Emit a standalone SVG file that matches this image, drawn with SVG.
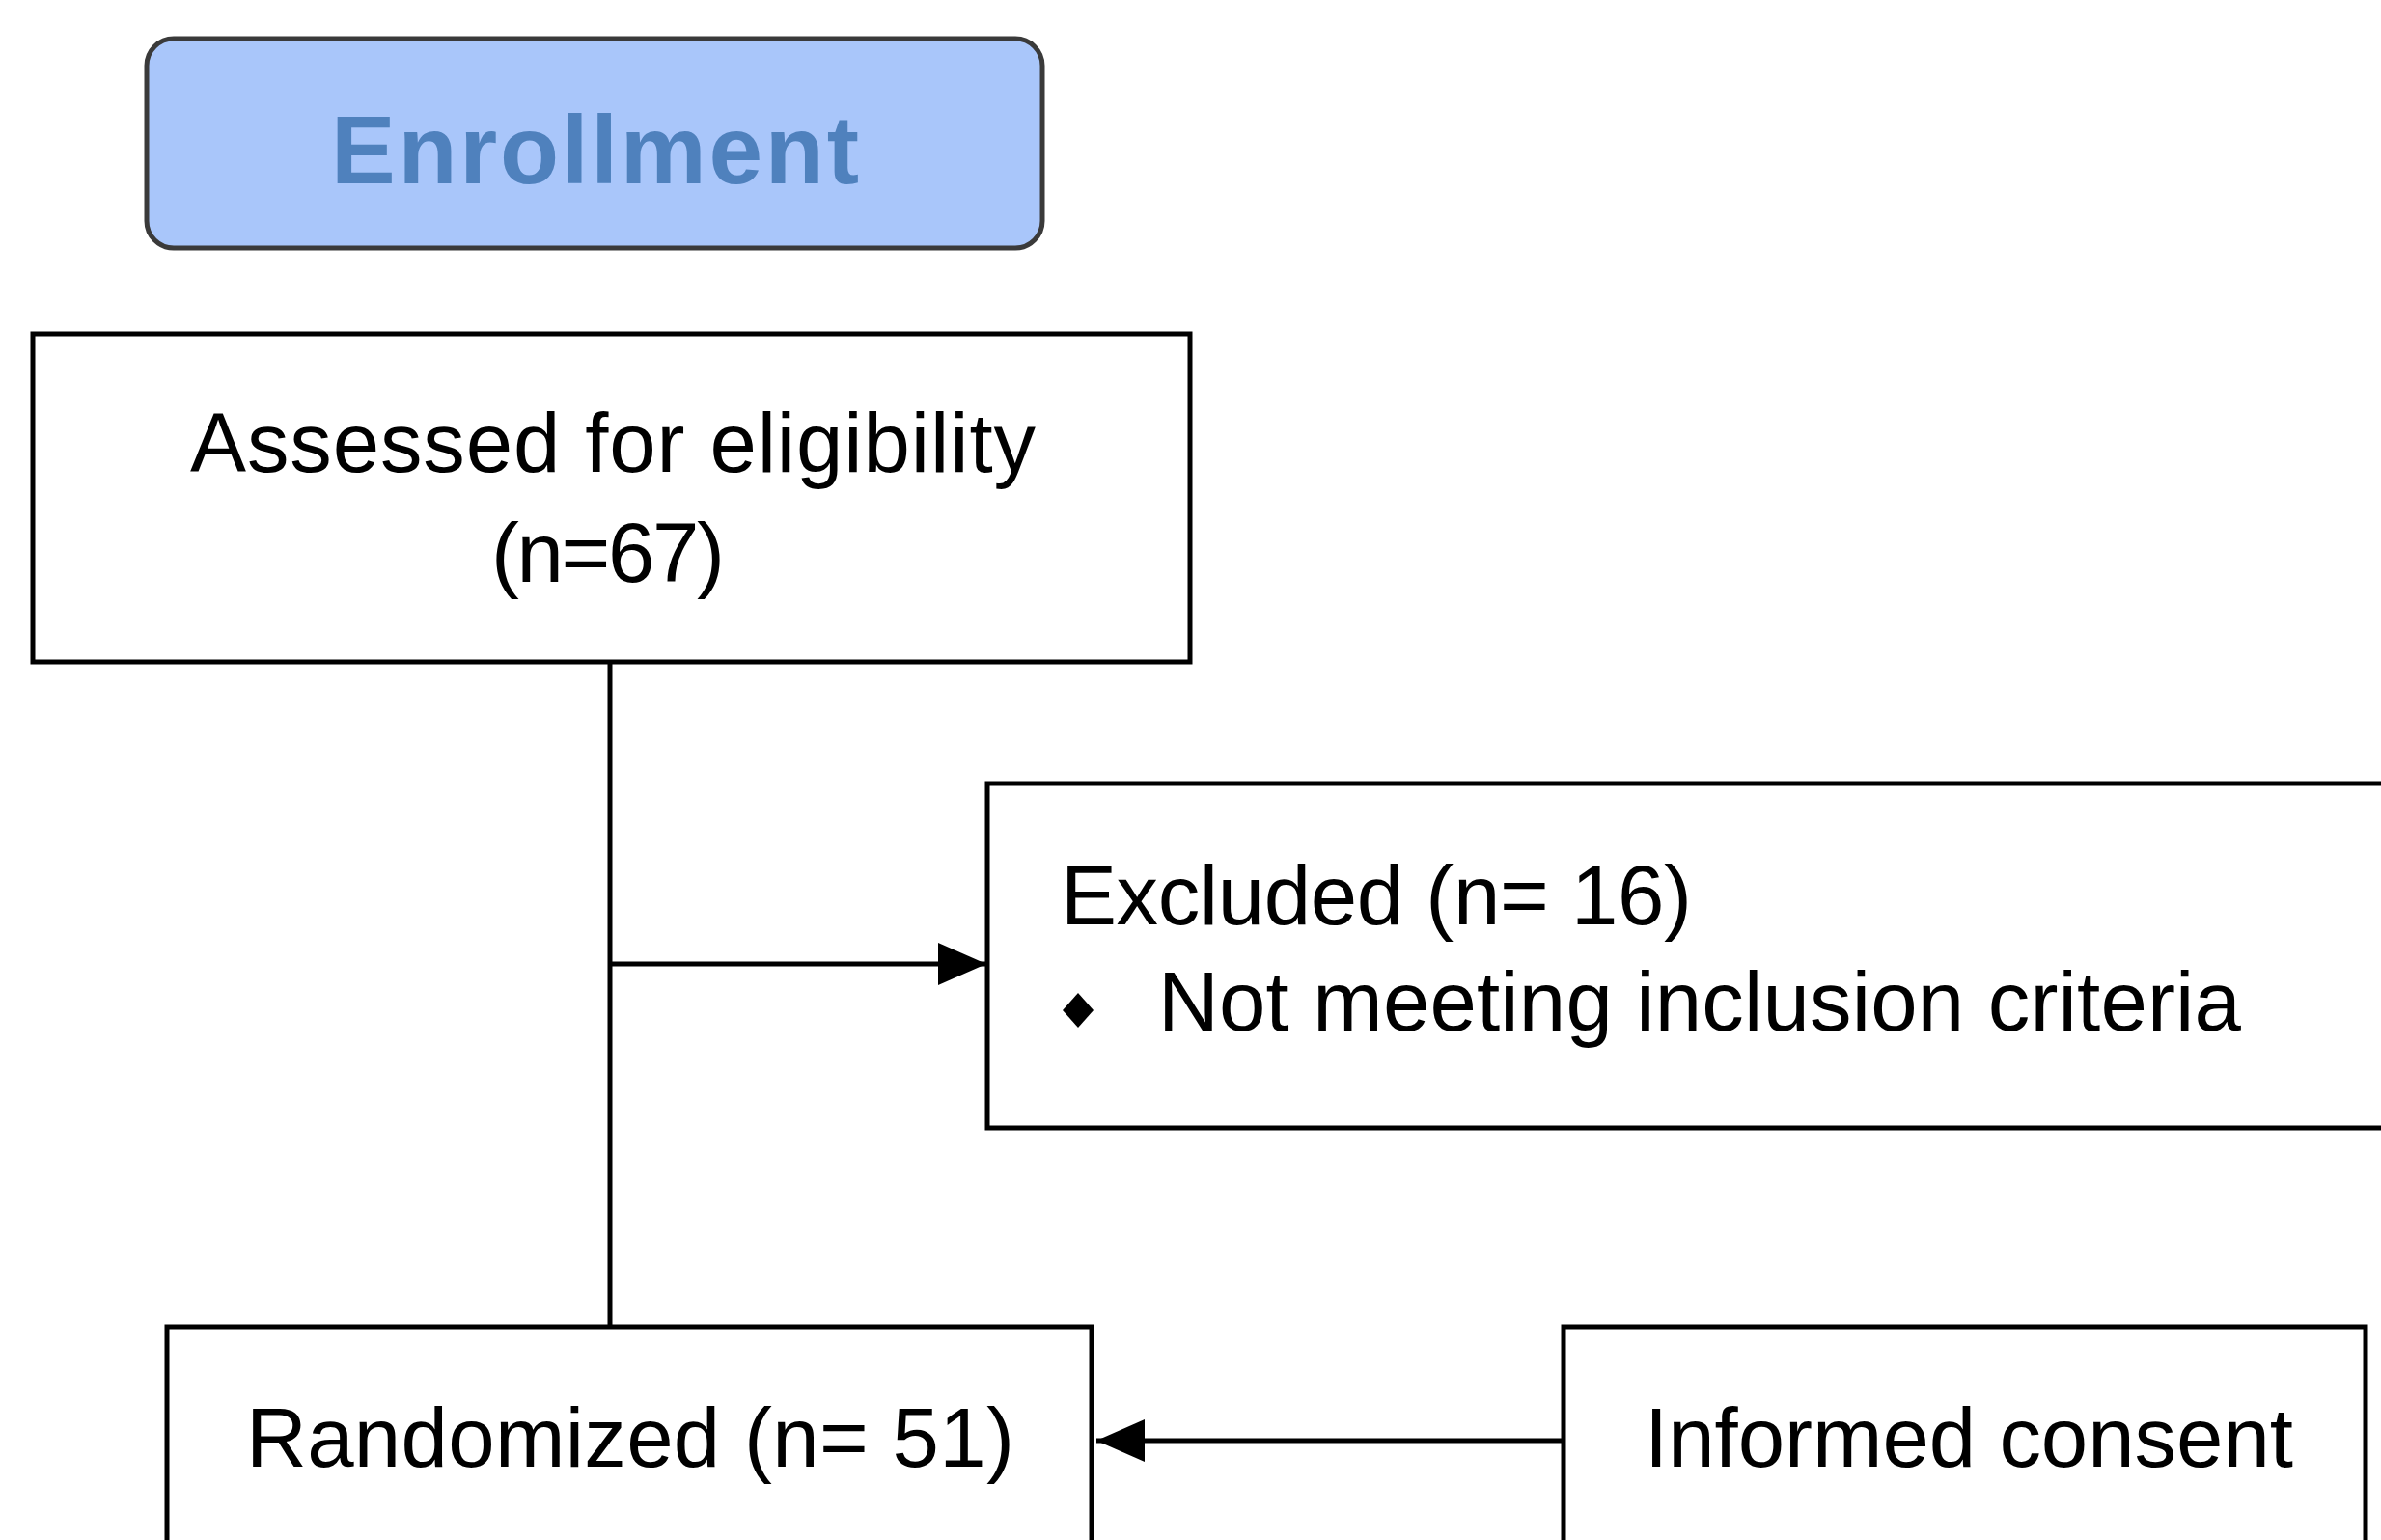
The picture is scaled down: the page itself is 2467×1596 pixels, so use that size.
<svg xmlns="http://www.w3.org/2000/svg" width="2467" height="1596" viewBox="0 0 2467 1596">
<style>
.box{fill:#ffffff;stroke:#000000;stroke-width:5}
.t{font-family:"Liberation Sans",Arial,sans-serif;font-size:87px;fill:#000000}
.conn{stroke:#000000;stroke-width:5;fill:none}
</style>
<defs>
<marker id="arr" viewBox="0 0 50 44" refX="50" refY="22" markerWidth="50" markerHeight="44" markerUnits="userSpaceOnUse" orient="auto">
<path d="M0,0 L50,22 L0,44 z" fill="#000000"/>
</marker>
</defs>
<rect width="2467" height="1596" fill="#ffffff"/>
<g id="connectors">
<line class="conn" x1="632" y1="686" x2="632" y2="1375"/>
<line class="conn" x1="632" y1="999" x2="1022" y2="999" marker-end="url(#arr)"/>
<line class="conn" x1="1620" y1="1493" x2="1136" y2="1493" marker-end="url(#arr)"/>
</g>
<g id="enrollment">
<rect x="152" y="40" width="928" height="217" rx="28" fill="#a9c6fa" stroke="#3a3a3a" stroke-width="5"/>
<text x="343" y="190" font-family="'Liberation Sans',Arial,sans-serif" font-size="100" font-weight="bold" fill="#4f81bd" textLength="547">Enrollment</text>
</g>
<g id="assessed">
<rect class="box" x="34" y="346" width="1199" height="340"/>
<text class="t" x="197" y="489" textLength="876">Assessed for eligibility</text>
<text class="t" x="509" y="603" textLength="242">(n=67)</text>
</g>
<g id="excluded">
<rect class="box" x="1023" y="812" width="1470" height="357"/>
<text class="t" x="1099" y="958" textLength="654">Excluded (n= 16)</text>
<polygon points="1117,1029 1133,1047 1117,1065 1101,1047" fill="#000000"/>
<text class="t" x="1200" y="1068" textLength="1122">Not meeting inclusion criteria</text>
</g>
<g id="randomized">
<rect class="box" x="173" y="1375" width="958" height="260"/>
<text class="t" x="255" y="1520" textLength="796">Randomized (n= 51)</text>
</g>
<g id="consent">
<rect class="box" x="1620" y="1375" width="831" height="260"/>
<text class="t" x="1704" y="1520" textLength="672">Informed consent</text>
</g>
</svg>
